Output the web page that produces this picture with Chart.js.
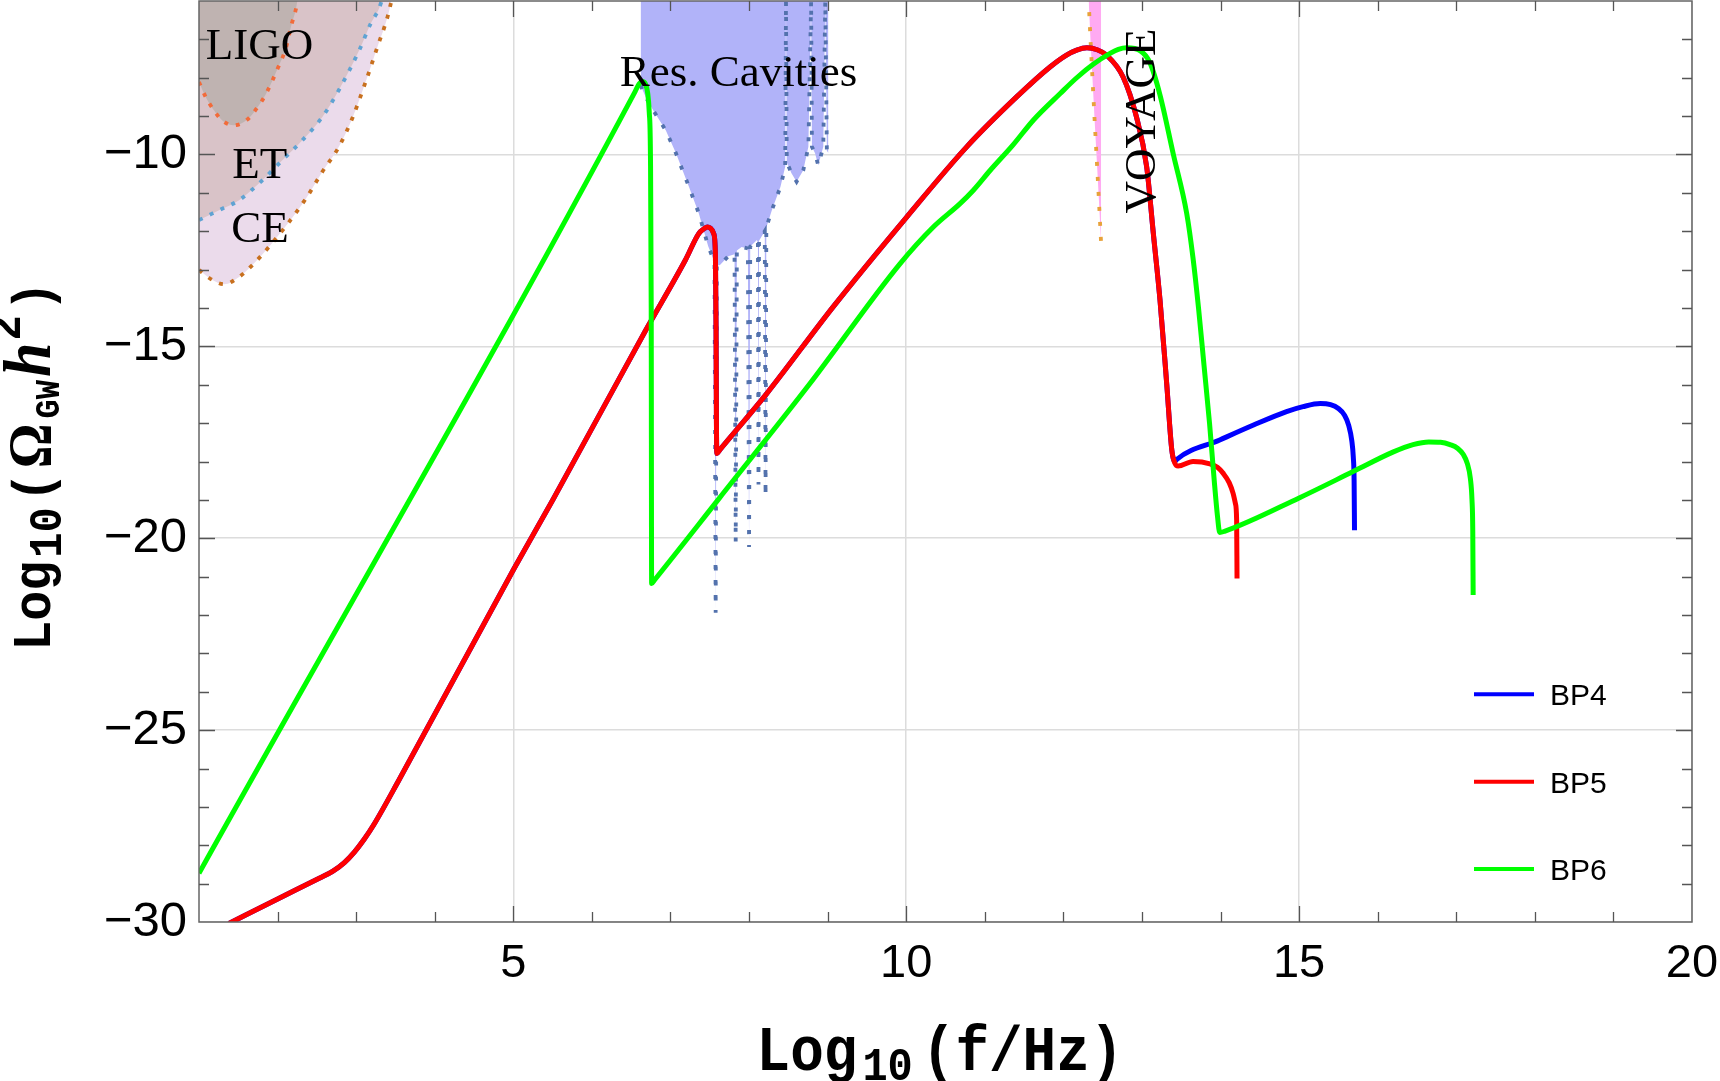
<!DOCTYPE html>
<html><head><meta charset="utf-8">
<script src="https://cdn.jsdelivr.net/npm/chart.js@4.4.1/dist/chart.umd.min.js"></script>
<style>html,body{margin:0;padding:0;background:#fff;overflow:hidden}canvas{display:block}</style>
</head><body>
<canvas id="c" width="1720" height="1081"></canvas>
<script>
// ---- axis ticks ----
const xTicks = [5, 10, 15, 20];
const yTicks = [-30, -25, -20, -15, -10];
const seriesNames = ['BP4', 'BP5', 'BP6'];

// ---- BP4 (blue) ----
const bp4X = [1.38,2.02,2.53,2.70,2.85,2.98,3.10,3.22,3.545,5.01,5.50,6.685,7.19,7.36,7.43,7.47,7.51,7.55,7.572,7.58,7.585,7.59,7.63,8.225,9.07,10.006,10.77,11.405,11.83,12.04,12.17,12.30,12.43,12.55,12.76,12.93,13.06,13.145,13.23,13.315,13.38,13.42,13.44,13.99,14.42,14.84,15.05,15.27,15.40,15.50,15.58,15.63,15.67,15.69,15.70,15.705];
const bp4Y = [-30.04,-29.38,-28.86,-28.68,-28.45,-28.17,-27.85,-27.48,-26.30,-20.79,-19.01,-14.58,-12.75,-12.06,-11.93,-11.89,-11.92,-12.06,-12.6,-14.5,-17.0,-17.79,-17.69,-16.23,-13.97,-11.63,-9.80,-8.50,-7.72,-7.41,-7.28,-7.22,-7.27,-7.41,-7.98,-9.02,-10.32,-12.06,-13.80,-15.97,-17.70,-18.0,-17.95,-17.44,-17.05,-16.70,-16.57,-16.49,-16.52,-16.62,-16.80,-17.05,-17.45,-17.9,-18.5,-19.79];
// ---- BP5 (red) ----
const bp5X = [1.38,2.02,2.53,2.70,2.85,2.98,3.10,3.22,3.545,5.01,5.50,6.685,7.19,7.36,7.43,7.47,7.51,7.55,7.572,7.58,7.585,7.59,7.63,8.225,9.07,10.006,10.77,11.405,11.83,12.04,12.17,12.30,12.43,12.55,12.76,12.93,13.06,13.145,13.23,13.315,13.38,13.42,13.46,13.65,13.865,13.96,14.035,14.11,14.16,14.19,14.205,14.21];
const bp5Y = [-30.04,-29.38,-28.86,-28.68,-28.45,-28.17,-27.85,-27.48,-26.30,-20.79,-19.01,-14.58,-12.75,-12.06,-11.93,-11.89,-11.92,-12.06,-12.6,-14.5,-17.0,-17.79,-17.69,-16.23,-13.97,-11.63,-9.80,-8.50,-7.72,-7.41,-7.28,-7.22,-7.27,-7.41,-7.98,-9.02,-10.32,-12.06,-13.80,-15.97,-17.70,-18.05,-18.12,-18.0,-18.06,-18.15,-18.31,-18.55,-18.83,-19.1,-19.53,-21.05];
// ---- BP6 (green) ----
const bp6X = [1.0,6.55,6.60,6.64,6.68,6.71,6.73,6.745,6.755,6.76,6.80,7.62,8.775,9.92,10.345,10.685,10.855,11.07,11.36,11.62,11.96,12.17,12.38,12.6,12.7,12.805,12.98,13.10,13.23,13.40,13.57,13.65,13.72,13.79,13.86,13.92,13.96,13.99,14.05,15.0,15.7,16.2,16.45,16.65,16.80,16.92,17.02,17.09,17.14,17.18,17.20,17.21,17.215];
const bp6Y = [-28.73,-8.36,-8.16,-8.10,-8.16,-8.4,-8.9,-10.0,-14.0,-21.18,-21.08,-18.96,-15.97,-12.85,-11.89,-11.28,-10.93,-10.41,-9.75,-9.1,-8.41,-8.0,-7.65,-7.36,-7.26,-7.22,-7.30,-7.6,-8.45,-10.0,-11.54,-12.7,-14.0,-15.5,-17.0,-18.5,-19.4,-19.85,-19.82,-18.95,-18.25,-17.75,-17.56,-17.49,-17.50,-17.56,-17.66,-17.82,-18.05,-18.45,-19.0,-19.8,-21.48];

// ---- detector sensitivity regions ----
const ligoX = [1.0,1.085,1.19,1.30,1.445,1.615,1.74,1.85,2.005,2.11,2.175,2.23,2.26];
const ligoY = [-8.11,-8.50,-8.85,-9.12,-9.24,-9.09,-8.78,-8.43,-7.74,-7.20,-6.63,-6.24,-5.9];
const etX = [1.0,1.255,1.51,1.765,2.06,2.315,2.57,2.78,3.04,3.185,3.29,3.34];
const etY = [-11.71,-11.45,-11.19,-10.75,-10.15,-9.63,-9.02,-8.32,-7.28,-6.59,-6.2,-5.9];
const ceX = [1.0,1.17,1.32,1.51,1.68,1.91,2.145,2.36,2.57,2.78,2.95,3.12,3.27,3.40,3.46];
const ceY = [-13.01,-13.27,-13.38,-13.19,-12.88,-12.36,-11.76,-11.15,-10.45,-9.80,-9.06,-8.11,-7.20,-6.41,-5.9];
const cavX = [6.62,6.685,6.78,6.94,7.07,7.235,7.36,7.48,7.56,7.575,7.59,7.63,7.735,7.815,7.83,7.845,7.905,7.985,8.0,8.015,8.1,8.113,8.12,8.127,8.2,8.21,8.22,8.29,8.40,8.46,8.47,8.48,8.54,8.605,8.69,8.755,8.79,8.80,8.84,8.88,8.945,8.97,8.99,9.01];
const cavY = [-8.2,-8.5,-8.85,-9.37,-9.97,-10.84,-11.53,-12.39,-12.8,-21.94,-12.9,-12.88,-12.65,-12.6,-20.1,-12.5,-12.41,-12.45,-20.23,-12.4,-12.23,-12.3,-18.6,-12.25,-12.0,-18.9,-11.9,-11.45,-10.84,-10.32,-6.0,-10.2,-10.49,-10.71,-10.41,-9.80,-6.0,-9.8,-9.97,-10.28,-9.8,-6.0,-9.9,-9.96];
const voyX = [12.32,12.345,12.37,12.395,12.42,12.45,12.48];
const voyY = [-5.9,-7.0,-8.0,-9.0,-9.95,-11.1,-12.3];

const pts = (xs, ys) => xs.map((v, i) => ({x: v, y: ys[i]}));

const regionLabels = [
  {t: 'LIGO', x: 1.085, y: -7.50},
  {t: 'ET', x: 1.424, y: -10.60},
  {t: 'CE', x: 1.411, y: -12.29},
  {t: 'Res. Cavities', x: 6.354, y: -8.22}
];
const voyLabel = {t: 'VOYAGE', x: 13.166, y: -11.54};
const legendColors = ['#0000ff', '#ff0000', '#00ff00'];

function curve(label, xs, ys, color, order) {
  return {label, data: pts(xs, ys), borderColor: color, borderWidth: 5, fill: false,
    pointRadius: 0, cubicInterpolationMode: 'monotone', order, borderJoinStyle: 'round', borderCapStyle: 'butt'};
}
function region(label, xs, ys, line, bg, order, dash, smooth) {
  const d = {label, data: pts(xs, ys), borderColor: line, backgroundColor: bg, borderWidth: 3.8,
    borderDash: dash, fill: 'end', pointRadius: 0, tension: 0, order, borderCapStyle: 'butt'};
  if (smooth) d.cubicInterpolationMode = 'monotone';
  return d;
}

function drawRich(ctx, segs, cx, cy, rot, kh) {
  let W = 0;
  segs.forEach(s => { ctx.font = s.f; s.w = ctx.measureText(s.t).width + (s.gap || 0); W += s.w; });
  ctx.save();
  ctx.translate(cx, cy); ctx.rotate(rot); ctx.scale(1, kh);
  ctx.textAlign = 'left'; ctx.textBaseline = 'alphabetic'; ctx.fillStyle = '#000';
  let x = -W / 2;
  segs.forEach(s => { ctx.font = s.f; ctx.fillText(s.t, x + (s.pre || 0), s.dy || 0); x += s.w; });
  ctx.restore();
}

const decor = {
  id: 'decor',
  afterDatasetsDraw(chart) {
    const {ctx, chartArea: a, scales: {x, y}} = chart;
    ctx.save();
    // region labels
    ctx.fillStyle = '#000';
    ctx.font = '45px "Liberation Serif"';
    ctx.textAlign = 'left'; ctx.textBaseline = 'alphabetic';
    regionLabels.forEach(l => ctx.fillText(l.t, x.getPixelForValue(l.x), y.getPixelForValue(l.y)));
    ctx.save();
    ctx.translate(x.getPixelForValue(voyLabel.x), y.getPixelForValue(voyLabel.y));
    ctx.rotate(-Math.PI / 2);
    ctx.fillText(voyLabel.t, 0, 0);
    ctx.restore();

    // frame
    ctx.strokeStyle = '#666'; ctx.lineWidth = 1.5;
    ctx.strokeRect(a.left, a.top, a.right - a.left, a.bottom - a.top);
    // inward ticks
    ctx.strokeStyle = '#555'; ctx.lineWidth = 1.3;
    ctx.beginPath();
    for (let v = Math.ceil(x.min) + 1; v < x.max; v++) {
      const px = Math.round(x.getPixelForValue(v)) + 0.5, L = v % 5 === 0 ? 16 : 10;
      ctx.moveTo(px, a.bottom); ctx.lineTo(px, a.bottom - L);
      ctx.moveTo(px, a.top); ctx.lineTo(px, a.top + L);
    }
    for (let v = Math.ceil(y.min) + 1; v < y.max; v++) {
      const py = Math.round(y.getPixelForValue(v)) + 0.5, L = v % 5 === 0 ? 16 : 10;
      ctx.moveTo(a.left, py); ctx.lineTo(a.left + L, py);
      ctx.moveTo(a.right, py); ctx.lineTo(a.right - L, py);
    }
    ctx.stroke();

    // legend
    const rows = [a.bottom - 227.7, a.bottom - 140.3, a.bottom - 53];
    seriesNames.forEach((n, i) => {
      ctx.strokeStyle = legendColors[i]; ctx.lineWidth = 4;
      ctx.beginPath(); ctx.moveTo(a.right - 218, rows[i]); ctx.lineTo(a.right - 158, rows[i]); ctx.stroke();
      ctx.fillStyle = '#000'; ctx.font = '30px "Liberation Sans"';
      ctx.textAlign = 'left'; ctx.textBaseline = 'alphabetic';
      ctx.fillText(n, a.right - 142, rows[i] + 11);
    });
    ctx.restore();

    // axis titles
    const M = 'bold 56px "Liberation Mono"', S = 'bold 42px "Liberation Mono"';
    drawRich(ctx, [
      {t: 'Log', f: M}, {t: '10', f: S, dy: 9, gap: 14, pre: 5}, {t: '(f/Hz)', f: M}
    ], 940, 1070, 0, 1.12);
    const M2 = 'bold 50px "Liberation Mono"', S2 = 'bold 42px "Liberation Mono"';
    drawRich(ctx, [
      {t: 'Log', f: M2}, {t: '10', f: S2, dy: 10, gap: 8, pre: 3}, {t: '(', f: M2, gap: 4},
      {t: '\u03A9', f: 'bold 56px "Liberation Serif"', gap: 5},
      {t: 'GW', f: 'bold 32px "Liberation Mono"', dy: 8, gap: 3}, {t: 'h', f: 'bold italic 62px "Liberation Serif"', gap: 2},
      {t: '2', f: S2, dy: -28, gap: 4}, {t: ')', f: M2}
    ], 50, 466, -Math.PI / 2, 1.08);
  }
};

new Chart(document.getElementById('c'), {
  type: 'line',
  data: {
    datasets: [
      curve('BP6', bp6X, bp6Y, '#00ff00', 1),
      curve('BP5', bp5X, bp5Y, '#ff0000', 2),
      curve('BP4', bp4X, bp4Y, '#0000ff', 3),
      region('VOYAGE', voyX, voyY, '#e8a23a', '#ffaaf2', 4, [4, 11], false),
      region('Res. Cavities', cavX, cavY, '#5372ad', '#b1b3f9', 5, [4, 11], false),
      region('LIGO', ligoX, ligoY, '#f26b3a', '#bfb3b1', 6, [4, 8], true),
      region('ET', etX, etY, '#5fa3d3', '#d9c3c8', 7, [4, 8], true),
      region('CE', ceX, ceY, '#c8701e', '#ebdbeb', 8, [4, 8], true)
    ]
  },
  options: {
    responsive: false, animation: false,
    layout: {padding: {top: 1, right: 28, bottom: 0, left: 0}},
    plugins: {legend: {display: false}, tooltip: {enabled: false}},
    scales: {
      x: {
        type: 'linear', min: 1, max: 20,
        afterBuildTicks: s => { s.ticks = xTicks.map(v => ({value: v})); },
        afterFit: s => { s.height = 159; s.paddingLeft = 0; s.paddingRight = 0; },
        grid: {color: '#dcdcdc', lineWidth: 1.5, drawTicks: false},
        border: {display: false},
        ticks: {padding: 14, color: '#000', font: {family: 'Liberation Sans', size: 47}, maxRotation: 0, autoSkip: false}
      },
      y: {
        type: 'linear', min: -30, max: -6,
        afterBuildTicks: s => { s.ticks = yTicks.map(v => ({value: v})); },
        afterFit: s => { s.width = 199; s.paddingTop = 0; s.paddingBottom = 0; },
        grid: {color: '#dcdcdc', lineWidth: 1.5, drawTicks: false},
        border: {display: false},
        ticks: {padding: 12, color: '#000', font: {family: 'Liberation Sans', size: 49},
          callback: v => '\u2212' + Math.abs(v)}
      }
    }
  },
  plugins: [decor]
});
</script>
</body></html>
